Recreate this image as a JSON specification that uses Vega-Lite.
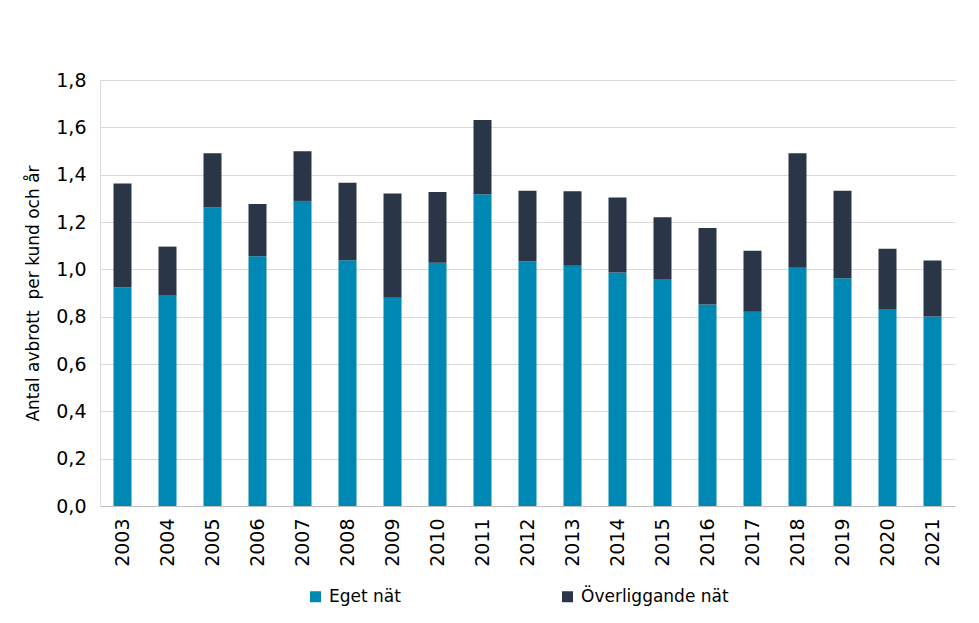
{
  "$schema": "https://vega.github.io/schema/vega-lite/v6.json",
  "autosize": "none",
  "width": 855,
  "height": 426,
  "padding": {"left": 100, "top": 80, "right": 24, "bottom": 117},
  "background": "white",
  "data": {"values": [
    {"year": "2003", "typ": "Eget nät", "v": 0.924, "o": 1},
    {"year": "2003", "typ": "Överliggande nät", "v": 0.439, "o": 2},
    {"year": "2004", "typ": "Eget nät", "v": 0.889, "o": 1},
    {"year": "2004", "typ": "Överliggande nät", "v": 0.207, "o": 2},
    {"year": "2005", "typ": "Eget nät", "v": 1.261, "o": 1},
    {"year": "2005", "typ": "Överliggande nät", "v": 0.229, "o": 2},
    {"year": "2006", "typ": "Eget nät", "v": 1.055, "o": 1},
    {"year": "2006", "typ": "Överliggande nät", "v": 0.221, "o": 2},
    {"year": "2007", "typ": "Eget nät", "v": 1.289, "o": 1},
    {"year": "2007", "typ": "Överliggande nät", "v": 0.210, "o": 2},
    {"year": "2008", "typ": "Eget nät", "v": 1.038, "o": 1},
    {"year": "2008", "typ": "Överliggande nät", "v": 0.328, "o": 2},
    {"year": "2009", "typ": "Eget nät", "v": 0.880, "o": 1},
    {"year": "2009", "typ": "Överliggande nät", "v": 0.440, "o": 2},
    {"year": "2010", "typ": "Eget nät", "v": 1.028, "o": 1},
    {"year": "2010", "typ": "Överliggande nät", "v": 0.299, "o": 2},
    {"year": "2011", "typ": "Eget nät", "v": 1.317, "o": 1},
    {"year": "2011", "typ": "Överliggande nät", "v": 0.314, "o": 2},
    {"year": "2012", "typ": "Eget nät", "v": 1.034, "o": 1},
    {"year": "2012", "typ": "Överliggande nät", "v": 0.298, "o": 2},
    {"year": "2013", "typ": "Eget nät", "v": 1.015, "o": 1},
    {"year": "2013", "typ": "Överliggande nät", "v": 0.315, "o": 2},
    {"year": "2014", "typ": "Eget nät", "v": 0.987, "o": 1},
    {"year": "2014", "typ": "Överliggande nät", "v": 0.316, "o": 2},
    {"year": "2015", "typ": "Eget nät", "v": 0.959, "o": 1},
    {"year": "2015", "typ": "Överliggande nät", "v": 0.261, "o": 2},
    {"year": "2016", "typ": "Eget nät", "v": 0.851, "o": 1},
    {"year": "2016", "typ": "Överliggande nät", "v": 0.324, "o": 2},
    {"year": "2017", "typ": "Eget nät", "v": 0.821, "o": 1},
    {"year": "2017", "typ": "Överliggande nät", "v": 0.258, "o": 2},
    {"year": "2018", "typ": "Eget nät", "v": 1.007, "o": 1},
    {"year": "2018", "typ": "Överliggande nät", "v": 0.483, "o": 2},
    {"year": "2019", "typ": "Eget nät", "v": 0.962, "o": 1},
    {"year": "2019", "typ": "Överliggande nät", "v": 0.370, "o": 2},
    {"year": "2020", "typ": "Eget nät", "v": 0.832, "o": 1},
    {"year": "2020", "typ": "Överliggande nät", "v": 0.255, "o": 2},
    {"year": "2021", "typ": "Eget nät", "v": 0.801, "o": 1},
    {"year": "2021", "typ": "Överliggande nät", "v": 0.236, "o": 2}
  ]},
  "mark": {"type": "bar"},
  "encoding": {
    "x": {
      "field": "year", "type": "ordinal",
      "scale": {"paddingInner": 0.6, "paddingOuter": 0.3},
      "axis": {
        "title": null, "labelAngle": -90, "labelAlign": "right", "labelBaseline": "middle",
        "labelFontSize": 19, "labelPadding": 12, "ticks": false,
        "domainColor": "#BFBFBF", "labelColor": "#000000"
      }
    },
    "y": {
      "field": "v", "type": "quantitative", "stack": "zero",
      "scale": {"domain": [0, 1.8], "nice": false},
      "axis": {
        "title": "Antal avbrott\u00a0 per kund och år",
        "titleFontSize": 17, "titleFontWeight": "normal", "titleColor": "#000000",
        "titlePadding": 13,
        "values": [0, 0.2, 0.4, 0.6, 0.8, 1.0, 1.2, 1.4, 1.6, 1.8],
        "labelExpr": "replace(format(datum.value, '.1f'), '.', ',')",
        "labelFontSize": 19, "labelPadding": 14, "labelColor": "#000000",
        "ticks": false, "domain": true, "domainColor": "#D9D9D9",
        "grid": true, "gridColor": "#D9D9D9"
      }
    },
    "color": {
      "field": "typ", "type": "nominal",
      "scale": {"domain": ["Eget nät", "Överliggande nät"], "range": ["#0088B4", "#2A3547"]},
      "legend": {
        "title": null, "orient": "none", "direction": "horizontal",
        "legendX": 207, "legendY": 508,
        "symbolType": "square", "symbolSize": 121, "symbolStrokeWidth": 0,
        "labelFontSize": 17, "labelColor": "#000000", "columnPadding": 158, "labelOffset": 5
      }
    },
    "order": {"field": "o", "type": "quantitative"}
  },
  "config": {
    "font": "DejaVu Sans",
    "view": {"stroke": null}
  }
}
